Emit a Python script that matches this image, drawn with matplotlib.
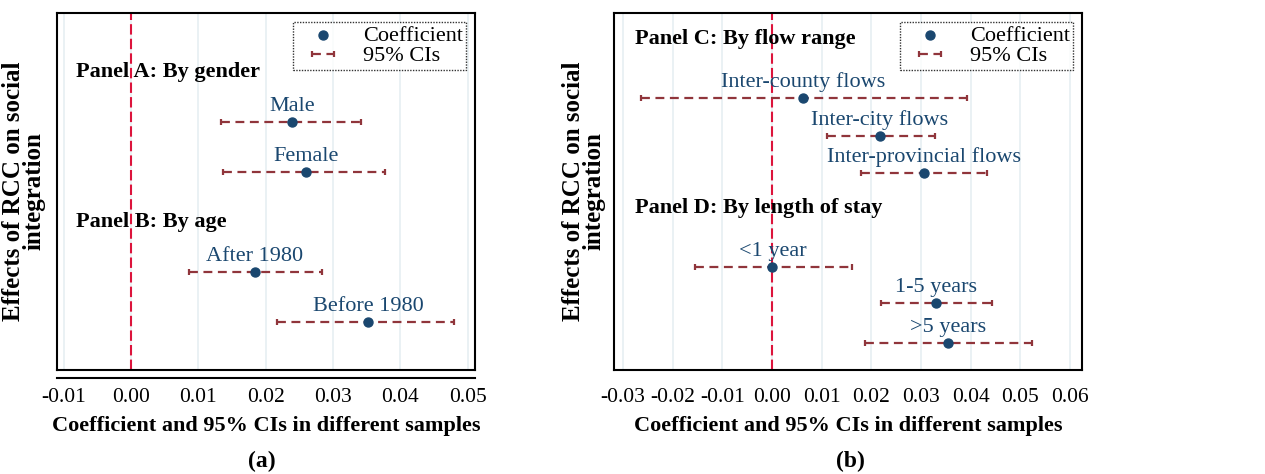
import matplotlib.pyplot as plt
from matplotlib.lines import Line2D
import matplotlib.transforms as mtransforms

plt.rcParams['font.family'] = ['Liberation Serif', 'DejaVu Serif']

# Panel (a): by gender / by age
labels_a = ['Male', 'Female', 'After 1980', 'Before 1980']
coef_a = [0.0239, 0.0260, 0.0184, 0.0352]
lo_a = [0.0134, 0.0137, 0.0086, 0.0217]
hi_a = [0.0341, 0.0378, 0.0283, 0.0480]
headers_a = ['Panel A: By gender', 'Panel B: By age']

# Panel (b): by flow range / by length of stay
labels_b = ['Inter-county flows', 'Inter-city flows', 'Inter-provincial flows',
            '<1 year', '1-5 years', '>5 years']
coef_b = [0.0063, 0.0217, 0.0305, 0.0001, 0.0330, 0.0355]
lo_b = [-0.0264, 0.0110, 0.0180, -0.0154, 0.0220, 0.0187]
hi_b = [0.0393, 0.0328, 0.0432, 0.0162, 0.0443, 0.0524]
headers_b = ['Panel C: By flow range', 'Panel D: By length of stay']

# row layout
rows_a = [1, 2, 4, 5]
hrows_a = [0, 3]
rows_b = [1.57, 2.59, 3.57, 6.08, 7.04, 8.11]
hrows_b = [0, 4.51]

navy = '#1a476f'
maroon = '#90353b'
zero_red = '#dc143c'
grid_c = '#e6eff2'

fig = plt.figure(figsize=(12.65, 4.74), dpi=100)
ax1 = fig.add_axes([57/1265, 1-370/474, 418/1265, 357/474])
ax2 = fig.add_axes([614/1265, 1-370/474, 468/1265, 357/474])


def draw(ax, labels, coef, lo, hi, rows, headers, hrows, ticks, xlim, ylim):
    for t in ticks:
        ax.axvline(t, color=grid_c, lw=1.2, zorder=0)
    ax.axvline(0, color=zero_red, lw=1.5, ls=(0, (5, 2)), zorder=1)
    xerr = [[c - l for c, l in zip(coef, lo)], [h - c for c, h in zip(coef, hi)]]
    eb = ax.errorbar(coef, rows, xerr=xerr, fmt='none', ecolor=maroon,
                     elinewidth=1.6, capsize=2.5, capthick=1.6, zorder=2,
                     label='95% CIs')
    eb[2][0].set_linestyle((0, (4, 2.5)))
    sc = ax.scatter(coef, rows, s=42, color=navy, zorder=3, label='Coefficient')
    for c, r, lab in zip(coef, rows, labels):
        ax.annotate(lab, (c, r), xytext=(0, 4), textcoords='offset points',
                    ha='center', va='bottom', color=navy, fontsize=16)
    trans = mtransforms.blended_transform_factory(ax.transAxes, ax.transData)
    for h, r in zip(headers, hrows):
        ax.text(0.045, r, h, transform=trans, fontsize=16, fontweight='bold',
                ha='left', va='center')
    ax.set_xlim(xlim)
    ax.set_ylim(ylim)
    ax.set_yticks([])
    ax.set_xticks(ticks)
    ax.set_xticklabels([f'{t:.2f}' for t in ticks])
    ax.tick_params(axis='x', length=0, pad=13, labelsize=15.5)
    for s in ax.spines.values():
        s.set_linewidth(1.5)
    leg = ax.legend(handles=[sc, eb], loc='upper right', fontsize=16,
                    frameon=True, fancybox=False, borderaxespad=0.4,
                    handlelength=2.4, handletextpad=0.6, borderpad=0.15,
                    labelspacing=0.0)
    fr = leg.get_frame()
    fr.set_edgecolor('black')
    fr.set_linestyle((0, (1, 1)))
    fr.set_linewidth(1.0)
    ax.set_xlabel('Coefficient and 95% CIs in different samples',
                  fontsize=16, fontweight='bold')
    ax.set_ylabel('Effects of RCC on social\nintegration', fontsize=18,
                  fontweight='bold', linespacing=0.85)


ticks_a = [-0.01, 0.0, 0.01, 0.02, 0.03, 0.04, 0.05]
ticks_b = [-0.03, -0.02, -0.01, 0.0, 0.01, 0.02, 0.03, 0.04, 0.05, 0.06]
draw(ax1, labels_a, coef_a, lo_a, hi_a, rows_a, headers_a, hrows_a,
     ticks_a, (-0.0110, 0.0511), (5.96, -1.18))
draw(ax2, labels_b, coef_b, lo_b, hi_b, rows_b, headers_b, hrows_b,
     ticks_b, (-0.0318, 0.0624), (8.83, -0.69))

ax1.yaxis.set_label_coords(-0.028, 0.5)
ax2.yaxis.set_label_coords(-0.018, 0.5)
ax1.xaxis.set_label_coords(0.5, -0.128)
ax2.xaxis.set_label_coords(0.5, -0.128)

# detached x-axis line under panel (a)
ax1.add_line(Line2D([0, 1], [-0.0224, -0.0224], transform=ax1.transAxes,
                    color='black', lw=1.5, clip_on=False))

fig.text(262/1265, 1-461/474, '(a)', ha='center', va='center',
         fontsize=17, fontweight='bold')
fig.text(850/1265, 1-461/474, '(b)', ha='center', va='center',
         fontsize=17, fontweight='bold')

fig.savefig('out.png', dpi=100)
